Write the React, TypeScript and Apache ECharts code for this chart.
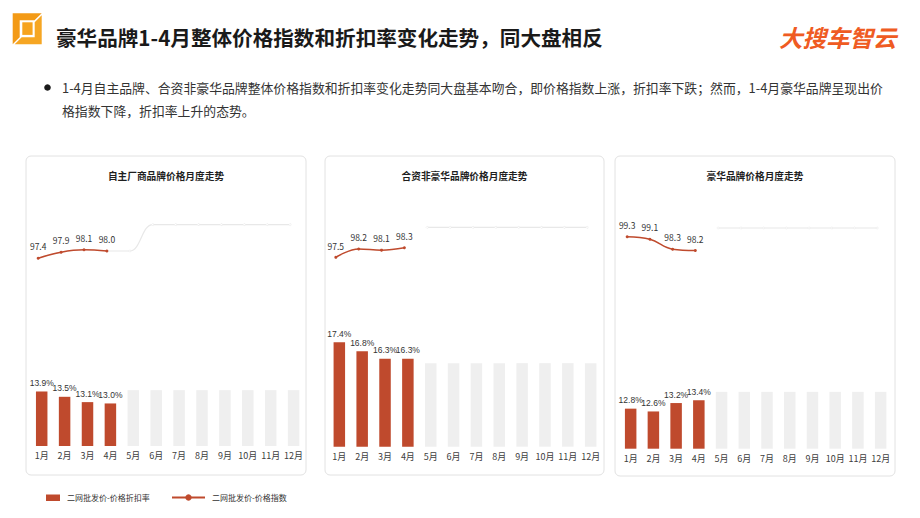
import React, { useEffect, useRef } from "react";
import * as echarts from "echarts";

const months = ["1月", "2月", "3月", "4月", "5月", "6月", "7月", "8月", "9月", "10月", "11月", "12月"];

// 自主厂商品牌
const selfRate = [13.9, 13.5, 13.1, 13.0];
const selfIndex = [97.4, 97.9, 98.1, 98.0];
const selfBgBar = [null, null, null, null, 14.0, 14.0, 14.0, 14.0, 14.0, 14.0, 14.0, 14.0];
const selfBgLine = [null, null, null, 98.0, 98.0, 100.2, 100.2, 100.2, 100.2, 100.2, 100.2, 100.2];

// 合资非豪华品牌
const jvRate = [17.4, 16.8, 16.3, 16.3];
const jvIndex = [97.5, 98.2, 98.1, 98.3];
const jvBgBar = [null, null, null, null, 16.0, 16.0, 16.0, 16.0, 16.0, 16.0, 16.0, 16.0];
const jvBgLine = [null, null, null, null, 100.0, 100.0, 100.0, 100.0, 100.0, 100.0, 100.0, 100.0];

// 豪华品牌
const luxRate = [12.8, 12.6, 13.2, 13.4];
const luxIndex = [99.3, 99.1, 98.3, 98.2];
const luxBgBar = [null, null, null, null, 14.0, 14.0, 14.0, 14.0, 14.0, 14.0, 14.0, 14.0];
const luxBgLine = [null, null, null, null, 100.0, 100.0, 100.0, 100.0, 100.0, 100.0, 100.0, 100.0];

const panelTitles = ["自主厂商品牌价格月度走势", "合资非豪华品牌价格月度走势", "豪华品牌价格月度走势"];
const rateName = "二网批发价-价格折扣率";
const indexName = "二网批发价-价格指数";
const mainTitle = "豪华品牌1-4月整体价格指数和折扣率变化走势，同大盘相反";
const bulletLine1 =
  "1-4月自主品牌、合资非豪华品牌整体价格指数和折扣率变化走势同大盘基本吻合，即价格指数上涨，折扣率下跌；然而，1-4月豪华品牌呈现出价";
const bulletLine2 = "格指数下降，折扣率上升的态势。";
const logoText = "大搜车智云";

const RED = "#bf4a2d";
const FONT = "'Noto Sans CJK SC', 'Noto Sans', sans-serif";
const NUMFONT = "'Liberation Sans Narrow', 'Liberation Sans', sans-serif";

const layouts = [
  { box: [26, 156, 280, 319], left: 30.25, width: 274.8, top: 200, bottom: 446, barMin: 9.8, barMax: 28.3, lineMin: 81.75, lineMax: 102.25 },
  { box: [325, 156, 279, 319], left: 327.9, width: 274.2, top: 200, bottom: 446.7, barMin: 10.43, barMax: 26.88, lineMin: 81.72, lineMax: 102.28 },
  { box: [615, 156, 280, 320], left: 619.3, width: 272.7, top: 200, bottom: 448.7, barMin: 9.94, barMax: 27.7, lineMin: 82.34, lineMax: 102.24 },
];

const panelData = [
  { rate: selfRate, index: selfIndex, bgBar: selfBgBar, bgLine: selfBgLine },
  { rate: jvRate, index: jvIndex, bgBar: jvBgBar, bgLine: jvBgLine },
  { rate: luxRate, index: luxIndex, bgBar: luxBgBar, bgLine: luxBgLine },
];

function pad(arr: number[]) {
  const out: (number | null)[] = [];
  for (let i = 0; i < months.length; i++) out.push(i < arr.length ? arr[i] : null);
  return out;
}

export default function App() {
  const ref = useRef<HTMLDivElement>(null);
  useEffect(() => {
    if (!ref.current) return;
    const chart = echarts.init(ref.current, undefined, { renderer: "svg" });

    const grid: any[] = [];
    const xAxis: any[] = [];
    const yAxis: any[] = [];
    const series: any[] = [];
    const graphic: any[] = [];

    layouts.forEach((L, i) => {
      const h = L.bottom - L.top;
      grid.push({ left: L.left, top: L.top, width: L.width, height: h });
      grid.push({ left: L.left - 3.5, top: L.top, width: L.width, height: h });
      xAxis.push({
        type: "category",
        gridIndex: 2 * i,
        data: months,
        axisLine: { show: false },
        axisTick: { show: false },
        axisLabel: { fontSize: 9, color: "#404040", margin: 5, fontFamily: FONT, interval: 0 },
      });
      xAxis.push({ type: "category", gridIndex: 2 * i + 1, data: months, show: false });
      yAxis.push({ type: "value", gridIndex: 2 * i, min: L.barMin, max: L.barMax, show: false, splitLine: { show: false } });
      yAxis.push({ type: "value", gridIndex: 2 * i + 1, min: L.lineMin, max: L.lineMax, show: false, splitLine: { show: false } });

      const d = panelData[i];
      series.push({
        type: "bar",
        name: rateName,
        xAxisIndex: 2 * i,
        yAxisIndex: 2 * i,
        data: pad(d.rate),
        barWidth: 11.5,
        itemStyle: { color: RED },
        label: {
          show: true,
          position: "top",
          distance: 4,
          fontSize: 8.5,
          color: "#333",
          fontFamily: NUMFONT,
          formatter: (p: any) => Number(p.value).toFixed(1) + "%",
        },
        z: 3,
      });
      series.push({
        type: "bar",
        name: "bg" + i,
        xAxisIndex: 2 * i,
        yAxisIndex: 2 * i,
        data: d.bgBar,
        barWidth: 11.5,
        barGap: "-100%",
        itemStyle: { color: "#efefef" },
        silent: true,
        z: 2,
      });
      series.push({
        type: "line",
        name: "bgLine" + i,
        xAxisIndex: 2 * i + 1,
        yAxisIndex: 2 * i + 1,
        data: d.bgLine,
        smooth: 0.4,
        symbol: "circle",
        symbolSize: 2,
        itemStyle: { color: "#ffffff", borderColor: "#e6e6e6", borderWidth: 0.5 },
        lineStyle: { color: "#e8e8e8", width: 1.2 },
        silent: true,
        z: 2,
      });
      series.push({
        type: "line",
        name: indexName,
        xAxisIndex: 2 * i + 1,
        yAxisIndex: 2 * i + 1,
        data: pad(d.index),
        smooth: 0.4,
        symbol: "circle",
        symbolSize: 3,
        itemStyle: { color: RED },
        lineStyle: { color: RED, width: 1.5 },
        label: {
          show: true,
          position: "top",
          distance: 6,
          fontSize: 8.5,
          color: "#333",
          fontFamily: FONT,
          formatter: (p: any) => Number(p.value).toFixed(1),
        },
        z: 4,
      });

      const [bx, by, bw, bh] = L.box;
      graphic.push({
        type: "rect",
        shape: { x: bx, y: by, width: bw, height: bh, r: 5 },
        style: { fill: "rgba(255,255,255,0)", stroke: "#e2e2e2", lineWidth: 1 },
        z: -10,
        silent: true,
      });
      graphic.push({
        type: "text",
        x: bx + bw / 2,
        y: by + 19.5,
        style: {
          text: panelTitles[i],
          fill: "#1f1f1f",
          fontSize: 9.7,
          fontWeight: "bold",
          fontFamily: FONT,
          align: "center",
          verticalAlign: "middle",
        },
      });
    });

    // title icon
    graphic.push({
      type: "polygon",
      shape: { points: [[12.7, 13.3], [41.7, 13.3], [34.5, 20.3], [19.7, 20.3], [19.7, 37.3], [12.7, 44.3]] },
      style: { fill: "#f39a16" },
    });
    graphic.push({
      type: "polygon",
      shape: { points: [[41.7, 15.3], [41.7, 44.3], [14.7, 44.3], [21.7, 37.3], [34.7, 37.3], [34.7, 22.3]] },
      style: { fill: "#f6a623" },
    });
    graphic.push({
      type: "rect",
      shape: { x: 22.3, y: 22.3, width: 10.3, height: 12.6 },
      style: { fill: "#f6a31e" },
    });
    graphic.push({
      type: "text",
      x: 56,
      y: 36.5,
      style: {
        text: mainTitle,
        fill: "#1a1a1a",
        fontSize: 20.6,
        fontWeight: "bold",
        fontFamily: FONT,
        verticalAlign: "middle",
      },
    });
    graphic.push({
      type: "text",
      x: 779,
      y: 36.5,
      style: {
        text: logoText,
        fill: "#ef5b22",
        fontSize: 23.5,
        fontWeight: "bold",
        fontStyle: "italic",
        fontFamily: FONT,
        verticalAlign: "middle",
      },
    });
    // bullet
    graphic.push({ type: "circle", shape: { cx: 47.5, cy: 87.5, r: 3.3 }, style: { fill: "#1a1a1a" } });
    graphic.push({
      type: "text",
      x: 62,
      y: 87,
      style: { text: bulletLine1, fill: "#333", fontSize: 12.85, fontFamily: FONT, verticalAlign: "middle" },
    });
    graphic.push({
      type: "text",
      x: 62,
      y: 110,
      style: { text: bulletLine2, fill: "#333", fontSize: 12.85, fontFamily: FONT, verticalAlign: "middle" },
    });
    // legend
    graphic.push({ type: "rect", shape: { x: 46, y: 494.5, width: 14, height: 6.5 }, style: { fill: RED } });
    graphic.push({
      type: "text",
      x: 67,
      y: 497.5,
      style: { text: rateName, fill: "#333", fontSize: 8, fontFamily: FONT, verticalAlign: "middle" },
    });
    graphic.push({
      type: "line",
      shape: { x1: 172, y1: 497.5, x2: 205, y2: 497.5 },
      style: { stroke: RED, lineWidth: 2.2 },
    });
    graphic.push({ type: "circle", shape: { cx: 188.5, cy: 497.5, r: 3.2 }, style: { fill: RED } });
    graphic.push({
      type: "text",
      x: 212,
      y: 497.5,
      style: { text: indexName, fill: "#333", fontSize: 8, fontFamily: FONT, verticalAlign: "middle" },
    });

    chart.setOption({
      animation: false,
      backgroundColor: "#ffffff",
      grid,
      xAxis,
      yAxis,
      series,
      graphic,
    });
    return () => chart.dispose();
  }, []);

  return <div ref={ref} style={{ position: "fixed", left: 0, top: 0, width: 920, height: 518 }} />;
}
